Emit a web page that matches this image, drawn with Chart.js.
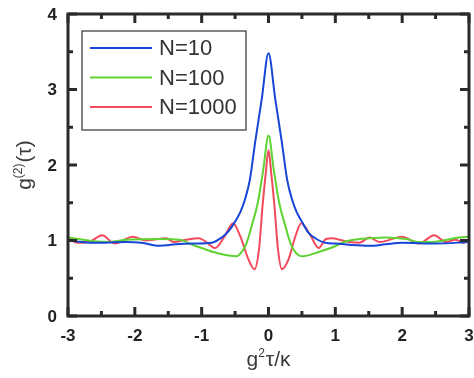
<!DOCTYPE html>
<html lang="en">
<head>
  <meta charset="UTF-8" />
  <title>g2 correlation</title>
  <script src="https://cdn.jsdelivr.net/npm/chart.js"></script>
  <style>
    html, body { margin: 0; padding: 0; background: #fff; overflow: hidden; }
    #wrap { width: 474px; height: 378px; }
  </style>
</head>
<body>
  <div id="wrap"><canvas id="g2Chart" width="474" height="378"></canvas></div>

  <script>
    // series
    const seriesLabels = ["N=10", "N=100", "N=1000"];
    const seriesColors = ["#1746d6", "#5fd332", "#f24a5c"];

    const tauN10 = [-3, -2.62, -2.13, -1.9, -1.63, -1.39, -1.1, -0.85, -0.7, -0.6, -0.5, -0.42, -0.35, -0.28, -0.2, -0.1, 0,
                    0.1, 0.2, 0.28, 0.35, 0.42, 0.5, 0.6, 0.7, 0.85, 1.01, 1.25, 1.51, 1.75, 2.0, 2.5, 3];
    const g2N10 = [1.0, 0.97, 0.98, 0.97, 0.93, 0.95, 0.96, 0.97, 1.04, 1.12, 1.25, 1.38, 1.55, 1.8, 2.3, 2.88, 3.48,
                   2.88, 2.3, 1.8, 1.55, 1.38, 1.25, 1.1, 1.03, 0.97, 0.96, 0.94, 0.93, 0.95, 0.97, 0.96, 0.98];

    const tauN100 = [-3, -2.62, -2.37, -2.13, -1.63, -1.33, -1.13, -1.0, -0.8, -0.6, -0.48, -0.4, -0.33, -0.24, -0.16, -0.08, 0,
                     0.08, 0.16, 0.24, 0.33, 0.4, 0.5, 0.76, 0.96, 1.16, 1.36, 1.76, 2.06, 2.25, 2.45, 2.85, 3];
    const g2N100 = [1.04, 0.99, 0.98, 1.01, 1.02, 1.01, 0.94, 0.9, 0.84, 0.8, 0.79, 0.85, 0.96, 1.23, 1.5, 1.93, 2.39,
                    1.93, 1.5, 1.23, 0.96, 0.85, 0.79, 0.85, 0.91, 0.99, 1.02, 1.04, 1.02, 0.98, 0.98, 1.04, 1.05];

    const tauN1000 = [-3, -2.86, -2.66, -2.49, -2.3, -2.03, -1.83, -1.53, -1.42, -1.24, -1.04, -0.93, -0.8, -0.66, -0.53, -0.42, -0.3, -0.21, -0.14, -0.09, -0.04, 0,
                      0.04, 0.09, 0.14, 0.2, 0.3, 0.4, 0.49, 0.62, 0.75, 0.86, 0.96, 1.06, 1.21, 1.36, 1.51, 1.66, 2.0, 2.25, 2.48, 2.65, 2.8, 2.92, 3];
    const g2N1000 = [1.04, 0.97, 0.99, 1.07, 0.96, 1.05, 1.0, 1.03, 0.98, 1.01, 1.03, 0.98, 0.9, 1.05, 1.23, 1.05, 0.75, 0.62, 0.9, 1.45, 1.9, 2.2,
                     1.9, 1.45, 0.9, 0.62, 0.75, 1.05, 1.23, 1.08, 0.9, 1.02, 1.03, 1.01, 0.98, 0.97, 1.04, 0.98, 1.05, 0.96, 1.07, 0.98, 1.01, 0.97, 1.02];

    const xTicks = [-3, -2, -1, 0, 1, 2, 3];
    const yTicks = [0, 1, 2, 3, 4];

    const xTitle = { base: "g", sup: "2", rest: "τ/κ" };
    const yTitle = { base: "g", sup: "(2)", rest: "(τ)" };

    function toPoints(xs, ys) {
      return xs.map((x, i) => ({ x: x, y: ys[i] }));
    }

    const ink = "#2a2a2a";
    const sans = "'Liberation Sans', Arial, sans-serif";

    // box frame, inward ticks on all four sides, tick labels
    const framePlugin = {
      id: "frame",
      afterDatasetsDraw(chart) {
        const { ctx, chartArea: a, scales } = chart;
        ctx.save();
        ctx.strokeStyle = ink;
        ctx.lineWidth = 3;
        ctx.lineCap = "butt";
        ctx.strokeRect(a.left, a.top, a.right - a.left, a.bottom - a.top);

        for (let v = xTicks[0]; v <= xTicks[xTicks.length - 1] + 1e-9; v += 0.5) {
          const px = scales.x.getPixelForValue(v);
          const len = Number.isInteger(v) ? 9 : 5;
          ctx.beginPath();
          ctx.moveTo(px, a.bottom); ctx.lineTo(px, a.bottom - len);
          ctx.moveTo(px, a.top); ctx.lineTo(px, a.top + len);
          ctx.stroke();
        }
        for (let v = yTicks[0]; v <= yTicks[yTicks.length - 1] + 1e-9; v += 0.5) {
          const py = scales.y.getPixelForValue(v);
          const len = Number.isInteger(v) ? 9 : 5;
          ctx.beginPath();
          ctx.moveTo(a.left, py); ctx.lineTo(a.left + len, py);
          ctx.moveTo(a.right, py); ctx.lineTo(a.right - len, py);
          ctx.stroke();
        }

        ctx.fillStyle = "#222";
        ctx.font = "bold 17px " + sans;
        ctx.textAlign = "center";
        ctx.textBaseline = "top";
        xTicks.forEach(v => ctx.fillText(String(v), scales.x.getPixelForValue(v), a.bottom + 12));
        ctx.textAlign = "right";
        ctx.textBaseline = "middle";
        yTicks.forEach(v => ctx.fillText(String(v), a.left - 11, scales.y.getPixelForValue(v) + 1));
        ctx.restore();
      }
    };

    // legend box drawn inside the plot
    const legendPlugin = {
      id: "boxLegend",
      afterDraw(chart) {
        const { ctx, chartArea: a } = chart;
        const x0 = a.left + 14, y0 = a.top + 17, w = 164, h = 99;
        ctx.save();
        ctx.fillStyle = "#fff";
        ctx.fillRect(x0, y0, w, h);
        ctx.strokeStyle = "#444";
        ctx.lineWidth = 1.3;
        ctx.strokeRect(x0, y0, w, h);
        ctx.font = "22px " + sans;
        ctx.textBaseline = "middle";
        chart.data.datasets.forEach((ds, i) => {
          const y = y0 + 17 + i * 29.5;
          ctx.strokeStyle = ds.borderColor;
          ctx.lineWidth = 2;
          ctx.beginPath();
          ctx.moveTo(x0 + 8, y); ctx.lineTo(x0 + 70, y);
          ctx.stroke();
          ctx.fillStyle = "#333";
          ctx.fillText(ds.label, x0 + 77, y + 1);
        });
        ctx.restore();
      }
    };

    // axis titles with small raised superscripts
    function drawTitle(ctx, t, size) {
      const font = size + "px " + sans;
      const small = Math.round(size * 0.55) + "px " + sans;
      ctx.font = font;
      const wBase = ctx.measureText(t.base).width;
      const wRest = ctx.measureText(t.rest).width;
      ctx.font = small;
      const wSup = ctx.measureText(t.sup).width;
      const total = wBase + wSup + wRest + 1;
      let x = -total / 2;
      ctx.textBaseline = "alphabetic";
      ctx.font = font;
      ctx.fillText(t.base, x, 0); x += wBase;
      ctx.font = small;
      ctx.fillText(t.sup, x, -size * 0.45); x += wSup + 1;
      ctx.font = font;
      ctx.fillText(t.rest, x, 0);
    }

    const titlesPlugin = {
      id: "titles",
      afterDraw(chart) {
        const { ctx, chartArea: a } = chart;
        ctx.save();
        ctx.fillStyle = "#3a3a3a";
        ctx.translate((a.left + a.right) / 2, a.bottom + 50);
        drawTitle(ctx, xTitle, 21);
        ctx.restore();

        ctx.save();
        ctx.fillStyle = "#3a3a3a";
        ctx.translate(31, (a.top + a.bottom) / 2);
        ctx.rotate(-Math.PI / 2);
        drawTitle(ctx, yTitle, 21);
        ctx.restore();
      }
    };

    new Chart(document.getElementById("g2Chart"), {
      type: "line",
      data: {
        datasets: [
          { label: seriesLabels[0], data: toPoints(tauN10, g2N10), borderColor: seriesColors[0] },
          { label: seriesLabels[1], data: toPoints(tauN100, g2N100), borderColor: seriesColors[1] },
          { label: seriesLabels[2], data: toPoints(tauN1000, g2N1000), borderColor: seriesColors[2] }
        ].map(ds => Object.assign(ds, {
          borderWidth: 2,
          pointRadius: 0,
          fill: false,
          cubicInterpolationMode: "monotone"
        }))
      },
      options: {
        responsive: false,
        animation: false,
        layout: { padding: { top: 14, right: 5, left: 68, bottom: 62 } },
        plugins: { legend: { display: false }, tooltip: { enabled: false } },
        scales: {
          x: {
            type: "linear",
            min: -3, max: 3,
            afterFit: s => { s.height = 0; },
            grid: { display: false, drawTicks: false },
            border: { display: false },
            ticks: { display: false }
          },
          y: {
            min: 0, max: 4,
            afterFit: s => { s.width = 0; },
            grid: { display: false, drawTicks: false },
            border: { display: false },
            ticks: { display: false }
          }
        }
      },
      plugins: [framePlugin, legendPlugin, titlesPlugin]
    });
  </script>
</body>
</html>
